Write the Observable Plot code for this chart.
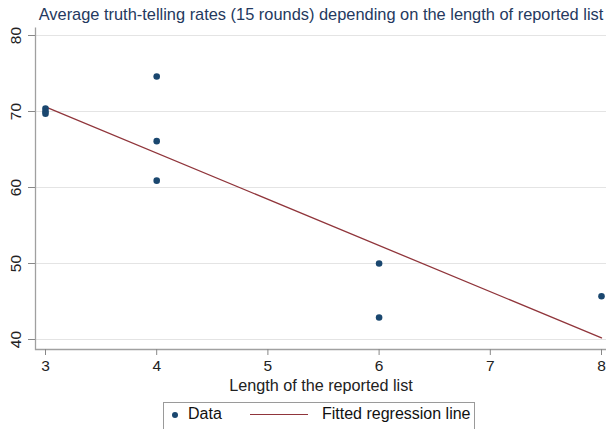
<!DOCTYPE html>
<html>
<head>
<meta charset="utf-8">
<script src="https://cdn.jsdelivr.net/npm/d3@7"></script>
<script src="https://cdn.jsdelivr.net/npm/@observablehq/plot@0.6"></script>
<style>
  body { margin: 0; background: #fff; font-family: "Liberation Sans", Arial, sans-serif; }
  #wrap { position: relative; width: 606px; height: 429px; overflow: hidden; background: #fff; }
  #title { position: absolute; left: 36px; width: 570px; top: 5px; text-align: center; font-size: 16.4px; color: #24395e; white-space: nowrap; }
  #chart { position: absolute; left: 0; top: 0; }
  #chart g[aria-label="x-axis label"] text { font-size: 16.2px; }
  #legend { position: absolute; left: 163px; top: 402px; width: 312px; height: 34px; border: 1px solid #9a9a9a; box-sizing: border-box; font-size: 16px; color: #111; }
  #legend .dot { position: absolute; left: 8px; top: 9px; width: 6px; height: 6px; border-radius: 50%; background: #1a476f; }
  #legend .t1 { position: absolute; left: 24px; top: 2px; }
  #legend .ln { position: absolute; left: 86px; top: 11px; width: 58px; height: 0; border-top: 1.3px solid #90353b; }
  #legend .t2 { position: absolute; left: 158px; top: 2px; }
</style>
</head>
<body>
<div id="wrap">
  <div id="chart"></div>
  <div id="title"></div>
  <div id="legend"><span class="dot"></span><span class="t1"></span><span class="ln"></span><span class="t2"></span></div>
</div>
<script>
const titleText = "Average truth-telling rates (15 rounds) depending on the length of reported list";
const xLabel = "Length of the reported list";
const legendLabels = ["Data", "Fitted regression line"];

const listLength = [3, 3, 3, 4, 4, 4, 6, 6, 8];
const truthRate = [70.4, 70.0, 69.7, 74.6, 66.1, 60.9, 50.0, 42.9, 45.7];

const xTicks = [3, 4, 5, 6, 7, 8];
const yTicks = [40, 50, 60, 70, 80];

const data = listLength.map((x, i) => ({x, y: truthRate[i]}));

document.getElementById("title").textContent = titleText;
document.querySelector("#legend .t1").textContent = legendLabels[0];
document.querySelector("#legend .t2").textContent = legendLabels[1];

const W = 606, H = 400;
const mL = 35, mR = 0, mT = 27, mB = 51;
const fw = W - mL - mR, fh = H - mT - mB;

const plot = Plot.plot({
  width: W,
  height: H,
  marginLeft: mL,
  marginRight: mR,
  marginTop: mT,
  marginBottom: mB,
  style: { fontFamily: "Liberation Sans, Arial, sans-serif", fontSize: "15.3px", color: "#222", background: "#fff" },
  x: { domain: [3, 8], insetLeft: 10, insetRight: 5 },
  y: { domain: [40, 80], insetTop: 8, insetBottom: 10 },
  marks: [
    Plot.gridY(yTicks, { stroke: "#e4e4e4", strokeOpacity: 1, strokeWidth: 1 }),
    Plot.frame({ stroke: "#a0a0a0", strokeWidth: 1.3, strokeDasharray: `0 ${fw + fh} ${fw + fh}` }),
    Plot.axisX(xTicks, {
      tickSize: 6, tickPadding: 4, stroke: "#888",
      fontSize: 15.5, fill: "#222",
      label: xLabel, labelAnchor: "center", labelOffset: 41, labelArrow: "none"
    }),
    Plot.axisY(yTicks, {
      tickSize: 7, tickPadding: 8, stroke: "#888",
      fontSize: 15.5, fill: "#222", tickRotate: -90,
      label: null
    }),
    Plot.linearRegressionY(data, { x: "x", y: "y", ci: 0, stroke: "#90353b", strokeWidth: 1.3 }),
    Plot.dot(data, { x: "x", y: "y", r: 3.3, fill: "#1a476f", stroke: "none" })
  ]
});
document.getElementById("chart").appendChild(plot);
</script>
</body>
</html>
